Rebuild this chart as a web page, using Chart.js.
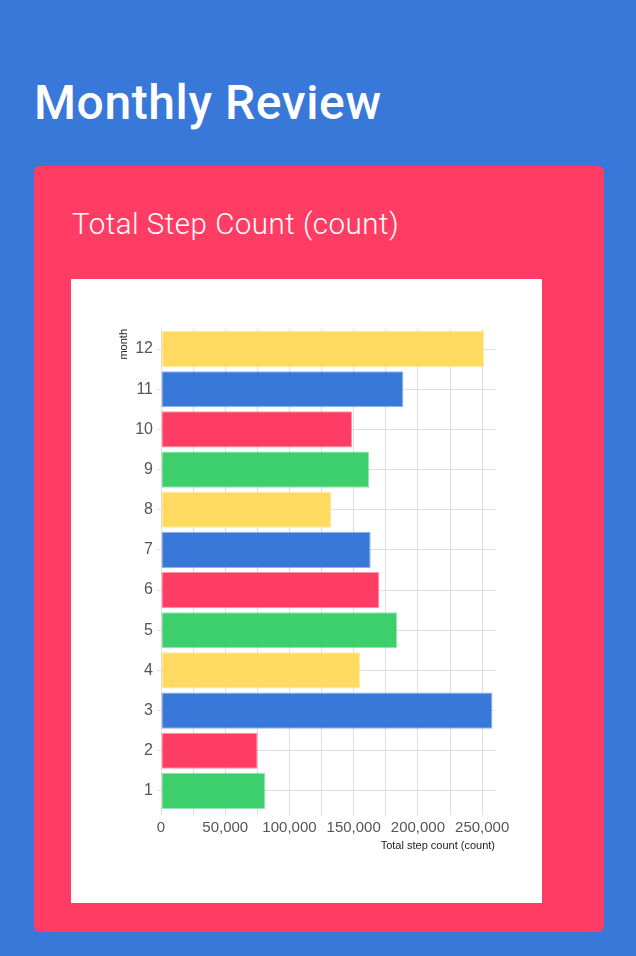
<!DOCTYPE html>
<html>
<head>
<meta charset="utf-8">
<script src="https://cdn.jsdelivr.net/npm/chart.js@4/dist/chart.umd.min.js"></script>
<style>
  html, body { margin: 0; padding: 0; }
  body { width: 636px; height: 956px; background: #3778D8; position: relative; overflow: hidden; font-family: Roboto, sans-serif; }
  #title { position: absolute; left: 34px; top: 79px; margin: 0; font-size: 48px; line-height: 48px; font-weight: 500; letter-spacing: 0.6px; color: #fff; white-space: nowrap; }
  #card { position: absolute; left: 34px; top: 166px; width: 570px; height: 766px; background: #FF3D64; border-radius: 6px; }
  #cardTitle { position: absolute; left: 38px; top: 44px; margin: 0; font-size: 29.5px; line-height: 29px; font-weight: 300; letter-spacing: 0.5px; color: #fff; white-space: nowrap; }
  #box { position: absolute; left: 37px; top: 113px; width: 471px; height: 624px; background: #fff; }
  #box canvas { display: block; }
</style>
</head>
<body>
<h1 id="title">Monthly Review</h1>
<div id="card">
  <h2 id="cardTitle">Total Step Count (count)</h2>
  <div id="box"><canvas id="c" width="471" height="624"></canvas></div>
</div>
<script>
const months = ['1', '2', '3', '4', '5', '6', '7', '8', '9', '10', '11', '12'];
const stepCounts = [81200, 75200, 258000, 155000, 183800, 170000, 163200, 132600, 162000, 148800, 188700, 251500];
const barColors = ['#3CCF6B', '#FF3D64', '#3778D8', '#FFDA61', '#3CCF6B', '#FF3D64', '#3778D8', '#FFDA61', '#3CCF6B', '#FF3D64', '#3778D8', '#FFDA61'];
const xGridValues = [0, 25000, 50000, 75000, 100000, 125000, 150000, 175000, 200000, 225000, 250000];
const xTickLabels = ['0', '', '50,000', '', '100,000', '', '150,000', '', '200,000', '', '250,000'];
const xAxisTitle = 'Total step count (count)';
const yAxisTitle = 'month';

function hexToRgba(hex, a) {
  const n = parseInt(hex.slice(1), 16);
  return 'rgba(' + ((n >> 16) & 255) + ',' + ((n >> 8) & 255) + ',' + (n & 255) + ',' + a + ')';
}

// display order: 12 at top, 1 at bottom
const labelsTopDown = months.slice().reverse();
const valuesTopDown = stepCounts.slice().reverse();
const colorsTopDown = barColors.slice().reverse();

const gridColor = '#dedede';
const tickColor = '#555';

new Chart(document.getElementById('c'), {
  type: 'bar',
  data: {
    labels: labelsTopDown,
    datasets: [{
      data: valuesTopDown,
      backgroundColor: colorsTopDown,
      borderColor: colorsTopDown.map(c => hexToRgba(c, 0.55)),
      borderWidth: 1,
      borderSkipped: false,
      barPercentage: 0.9,
      categoryPercentage: 1.0
    }]
  },
  options: {
    indexAxis: 'y',
    responsive: false,
    animation: false,
    events: [],
    layout: { padding: { left: 40, right: 47, top: 50, bottom: 50 } },
    plugins: { legend: { display: false }, tooltip: { enabled: false } },
    scales: {
      x: {
        type: 'linear',
        min: 0,
        max: 260000,
        afterFit: s => { s.height = 42; },
        afterBuildTicks: s => { s.ticks = xGridValues.map(v => ({ value: v })); },
        border: { display: false },
        grid: { color: gridColor, lineWidth: 1, tickLength: 4, drawTicks: true },
        ticks: {
          autoSkip: false,
          maxRotation: 0,
          minRotation: 0,
          padding: 4,
          color: tickColor,
          font: { family: 'Liberation Sans', size: 15 },
          callback: (v, i) => xTickLabels[i]
        },
        title: {
          display: true,
          text: xAxisTitle,
          align: 'end',
          color: '#222',
          padding: { top: 0, bottom: 0 },
          font: { family: 'Liberation Sans', size: 11 }
        }
      },
      y: {
        type: 'category',
        afterFit: s => { s.width = 50; },
        border: { display: false },
        grid: { color: gridColor, lineWidth: 1, offset: false, tickLength: 4, drawTicks: true },
        ticks: {
          padding: 4,
          color: tickColor,
          font: { family: 'Liberation Sans', size: 16 }
        },
        title: {
          display: true,
          text: yAxisTitle,
          align: 'end',
          color: '#222',
          padding: { top: 6, bottom: 0 },
          font: { family: 'Liberation Sans', size: 11 }
        }
      }
    }
  }
});
</script>
</body>
</html>
